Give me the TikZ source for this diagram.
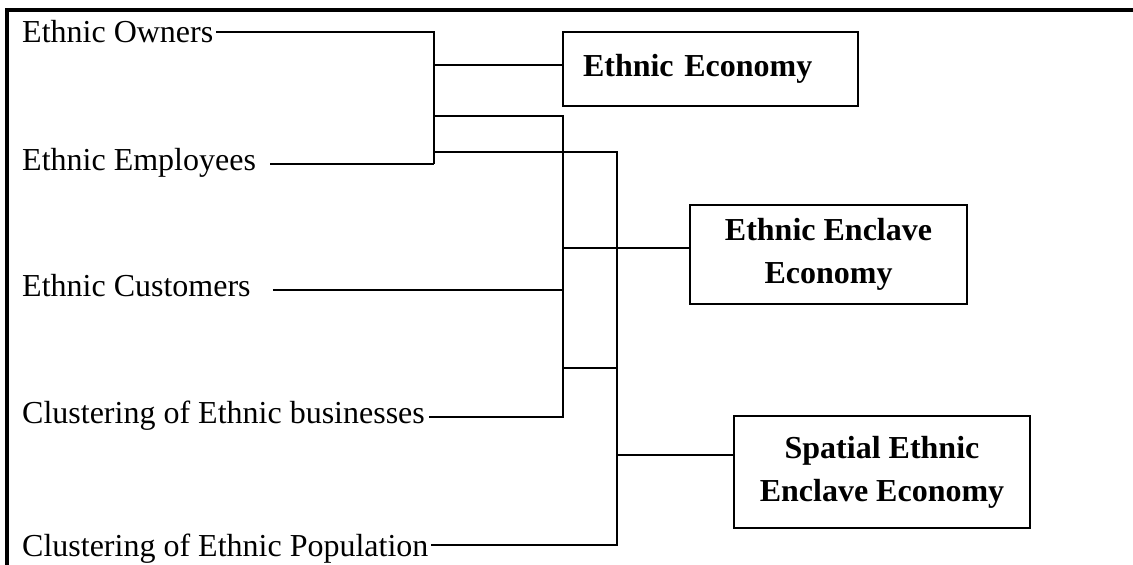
\documentclass[tikz,border=0pt]{standalone}
\usepackage{fontspec}
\setmainfont{Liberation Serif}
\begin{document}
\begin{tikzpicture}[x=1pt,y=-1pt,
  conn/.style={line width=1.5pt},
  lbl/.style={anchor=base west, inner sep=0pt, font=\fontsize{32}{43}\selectfont},
  box/.style={draw, line width=1.8pt, inner sep=0pt, font=\fontsize{32}{43}\selectfont\bfseries, align=center}]
\useasboundingbox (0,0) rectangle (1133,565);
\draw[line width=3.5pt] (7,565) -- (7,10) -- (1133,10);

% left labels
\node[lbl] (owners) at (22,42.3) {Ethnic Owners};
\node[lbl] (employees) at (22,170.5) {Ethnic Employees};
\node[lbl] (customers) at (22,296.7) {Ethnic Customers};
\node[lbl] (business) at (22,423) {Clustering of Ethnic businesses};
\node[lbl] (population) at (22,556) {Clustering of Ethnic Population};

% boxes
\node[box, minimum width=295pt, minimum height=74pt, text width=255pt, align=left, anchor=center] (econ) at (710.5,69) {\hspace*{0pt}Ethnic Economy};
\node[box, minimum width=277pt, minimum height=99pt] (enclave) at (828.5,254.5) {Ethnic Enclave\\Economy};
\node[box, minimum width=296pt, minimum height=112pt] (spatial) at (882,472) {Spatial Ethnic\\Enclave Economy};

% junction coordinates
\coordinate (a1) at (434,32);
\coordinate (a2) at (434,164);
\coordinate (a3) at (434,65);
\coordinate (b1) at (434,116);
\coordinate (b2) at (563,116);
\coordinate (b3) at (563,417);
\coordinate (c1) at (434,152);
\coordinate (c2) at (617,152);
\coordinate (c3) at (617,545);
\coordinate (d1) at (563,290);
\coordinate (d2) at (563,248);
\coordinate (d3) at (563,368);
\coordinate (d4) at (617,368);
\coordinate (e1) at (617,455);

% connectors
\draw[conn] ([xshift=3pt]owners.east |- a1) -- (a1) -- (a2);
\draw[conn] ([xshift=14pt]employees.east |- a2) -- (a2);
\draw[conn] (a3) -- (a3 -| econ.west);
\draw[conn] (b1) -- (b2) -- (b3) -- ([xshift=4pt]business.east |- b3);
\draw[conn] (c1) -- (c2) -- (c3) -- ([xshift=2pt]population.east |- c3);
\draw[conn] ([xshift=22pt]customers.east |- d1) -- (d1);
\draw[conn] (d2) -- (d2 -| enclave.west);
\draw[conn] (d3) -- (d4);
\draw[conn] (e1) -- (e1 -| spatial.west);
\end{tikzpicture}
\end{document}
